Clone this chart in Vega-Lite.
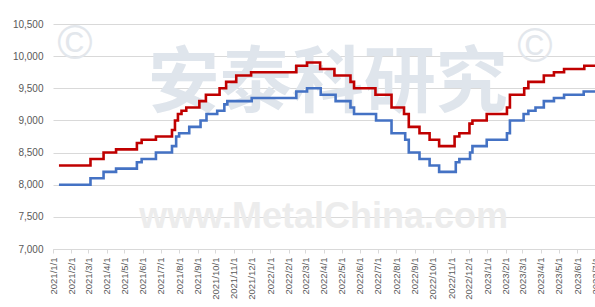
{
  "$schema": "https://vega.github.io/schema/vega-lite/v6.json",
  "width": 542,
  "height": 225,
  "autosize": {"type": "none"},
  "padding": {"left": 53, "top": 24, "right": 0, "bottom": 58},
  "background": "white",
  "config": {"view": {"stroke": null}, "font": "Liberation Sans"},
  "datasets": {
    "prices": [
      {"date": "2021-01-11", "series": "red", "value": 8300},
      {"date": "2021-03-05", "series": "red", "value": 8400},
      {"date": "2021-03-27", "series": "red", "value": 8500},
      {"date": "2021-04-17", "series": "red", "value": 8550},
      {"date": "2021-05-22", "series": "red", "value": 8650},
      {"date": "2021-05-30", "series": "red", "value": 8700},
      {"date": "2021-06-23", "series": "red", "value": 8750},
      {"date": "2021-07-20", "series": "red", "value": 8850},
      {"date": "2021-07-25", "series": "red", "value": 9000},
      {"date": "2021-07-30", "series": "red", "value": 9100},
      {"date": "2021-08-05", "series": "red", "value": 9150},
      {"date": "2021-08-13", "series": "red", "value": 9200},
      {"date": "2021-09-04", "series": "red", "value": 9300},
      {"date": "2021-09-15", "series": "red", "value": 9400},
      {"date": "2021-10-08", "series": "red", "value": 9500},
      {"date": "2021-10-19", "series": "red", "value": 9600},
      {"date": "2021-11-05", "series": "red", "value": 9700},
      {"date": "2021-11-30", "series": "red", "value": 9750},
      {"date": "2022-02-14", "series": "red", "value": 9850},
      {"date": "2022-03-04", "series": "red", "value": 9900},
      {"date": "2022-03-26", "series": "red", "value": 9800},
      {"date": "2022-04-19", "series": "red", "value": 9700},
      {"date": "2022-05-16", "series": "red", "value": 9600},
      {"date": "2022-05-22", "series": "red", "value": 9500},
      {"date": "2022-06-27", "series": "red", "value": 9400},
      {"date": "2022-07-24", "series": "red", "value": 9200},
      {"date": "2022-08-14", "series": "red", "value": 9100},
      {"date": "2022-08-22", "series": "red", "value": 8900},
      {"date": "2022-09-09", "series": "red", "value": 8800},
      {"date": "2022-09-26", "series": "red", "value": 8700},
      {"date": "2022-10-12", "series": "red", "value": 8600},
      {"date": "2022-11-07", "series": "red", "value": 8750},
      {"date": "2022-11-15", "series": "red", "value": 8800},
      {"date": "2022-12-02", "series": "red", "value": 8950},
      {"date": "2022-12-07", "series": "red", "value": 9000},
      {"date": "2022-12-31", "series": "red", "value": 9100},
      {"date": "2023-02-03", "series": "red", "value": 9200},
      {"date": "2023-02-08", "series": "red", "value": 9400},
      {"date": "2023-03-04", "series": "red", "value": 9500},
      {"date": "2023-03-11", "series": "red", "value": 9600},
      {"date": "2023-04-06", "series": "red", "value": 9700},
      {"date": "2023-04-23", "series": "red", "value": 9750},
      {"date": "2023-05-10", "series": "red", "value": 9800},
      {"date": "2023-06-13", "series": "red", "value": 9850},
      {"date": "2023-07-07", "series": "red", "value": 9850},
      {"date": "2021-01-11", "series": "blue", "value": 8000},
      {"date": "2021-03-05", "series": "blue", "value": 8100},
      {"date": "2021-03-27", "series": "blue", "value": 8200},
      {"date": "2021-04-17", "series": "blue", "value": 8250},
      {"date": "2021-05-22", "series": "blue", "value": 8350},
      {"date": "2021-05-30", "series": "blue", "value": 8400},
      {"date": "2021-06-23", "series": "blue", "value": 8500},
      {"date": "2021-07-20", "series": "blue", "value": 8600},
      {"date": "2021-07-27", "series": "blue", "value": 8750},
      {"date": "2021-08-01", "series": "blue", "value": 8800},
      {"date": "2021-08-18", "series": "blue", "value": 8900},
      {"date": "2021-09-06", "series": "blue", "value": 9000},
      {"date": "2021-09-16", "series": "blue", "value": 9100},
      {"date": "2021-10-04", "series": "blue", "value": 9150},
      {"date": "2021-10-16", "series": "blue", "value": 9250},
      {"date": "2021-10-21", "series": "blue", "value": 9300},
      {"date": "2021-12-01", "series": "blue", "value": 9350},
      {"date": "2022-02-14", "series": "blue", "value": 9450},
      {"date": "2022-03-04", "series": "blue", "value": 9500},
      {"date": "2022-03-27", "series": "blue", "value": 9400},
      {"date": "2022-04-21", "series": "blue", "value": 9300},
      {"date": "2022-05-16", "series": "blue", "value": 9200},
      {"date": "2022-05-22", "series": "blue", "value": 9100},
      {"date": "2022-06-28", "series": "blue", "value": 9000},
      {"date": "2022-07-24", "series": "blue", "value": 8800},
      {"date": "2022-08-16", "series": "blue", "value": 8700},
      {"date": "2022-08-22", "series": "blue", "value": 8500},
      {"date": "2022-09-09", "series": "blue", "value": 8400},
      {"date": "2022-09-26", "series": "blue", "value": 8300},
      {"date": "2022-10-12", "series": "blue", "value": 8200},
      {"date": "2022-11-09", "series": "blue", "value": 8350},
      {"date": "2022-11-15", "series": "blue", "value": 8400},
      {"date": "2022-12-03", "series": "blue", "value": 8500},
      {"date": "2022-12-07", "series": "blue", "value": 8600},
      {"date": "2022-12-31", "series": "blue", "value": 8700},
      {"date": "2023-02-03", "series": "blue", "value": 8800},
      {"date": "2023-02-08", "series": "blue", "value": 9000},
      {"date": "2023-03-03", "series": "blue", "value": 9100},
      {"date": "2023-03-11", "series": "blue", "value": 9150},
      {"date": "2023-03-23", "series": "blue", "value": 9200},
      {"date": "2023-04-06", "series": "blue", "value": 9300},
      {"date": "2023-04-23", "series": "blue", "value": 9350},
      {"date": "2023-05-10", "series": "blue", "value": 9400},
      {"date": "2023-06-12", "series": "blue", "value": 9450},
      {"date": "2023-07-07", "series": "blue", "value": 9450}
    ],
    "marks": [
      {"date": "2022-04-08", "value": 9560, "label": "安泰科研究", "kind": "cn"},
      {"date": "2022-04-01", "value": 7500, "label": "www.MetalChina.com", "kind": "en"},
      {"date": "2021-02-07", "value": 10180, "label": "©", "kind": "c"},
      {"date": "2023-03-22", "value": 10130, "label": "©", "kind": "c"}
    ]
  },
  "encoding": {
    "x": {
      "field": "date", "type": "temporal",
      "scale": {"type": "utc", "domain": [{"year": 2021, "month": 1, "date": 1, "utc": true}, {"year": 2023, "month": 7, "date": 1, "utc": true}]},
      "axis": {
        "title": null, "format": "%Y/%-m/%-d", "labelAngle": 270, "labelFontSize": 9.5, "labelColor": "#595959",
        "tickCount": {"interval": "month", "step": 1}, "labelOverlap": false, "labelFlush": false,
        "domainColor": "#d9d9d9", "tickColor": "#d9d9d9", "tickSize": 4, "labelPadding": 4, "grid": false
      }
    },
    "y": {
      "field": "value", "type": "quantitative",
      "scale": {"domain": [7000, 10500], "nice": false, "zero": false},
      "axis": {
        "title": null, "format": ",d", "values": [7000, 7500, 8000, 8500, 9000, 9500, 10000, 10500],
        "labelFontSize": 10, "labelColor": "#595959", "ticks": false, "domain": false, "labelOverlap": false, "labelFlush": false,
        "labelPadding": 10, "gridColor": "#d9d9d9", "gridWidth": 1
      }
    }
  },
  "layer": [
    {
      "data": {"name": "marks"},
      "transform": [{"filter": "datum.kind == 'cn'"}],
      "mark": {"type": "text", "font": "Noto Sans CJK SC", "fontWeight": "bold", "fontSize": 72, "color": "#dfe5ec", "align": "center", "baseline": "middle"},
      "encoding": {"text": {"field": "label"}}
    },
    {
      "data": {"name": "marks"},
      "transform": [{"filter": "datum.kind == 'en'"}],
      "mark": {"type": "text", "font": "Liberation Sans", "fontWeight": "bold", "fontSize": 36, "color": "#ececec", "align": "center", "baseline": "middle"},
      "encoding": {"text": {"field": "label"}}
    },
    {
      "data": {"name": "marks"},
      "transform": [{"filter": "datum.kind == 'c'"}],
      "mark": {"type": "text", "font": "Liberation Sans", "fontSize": 48, "color": "#e3e7ec", "align": "center", "baseline": "middle"},
      "encoding": {"text": {"field": "label"}}
    },
    {
      "data": {"name": "prices"},
      "mark": {"type": "line", "interpolate": "step-after", "strokeWidth": 2.6, "clip": true},
      "encoding": {
        "color": {
          "field": "series", "type": "nominal",
          "scale": {"domain": ["red", "blue"], "range": ["#c00000", "#4472c4"]},
          "legend": null
        }
      }
    }
  ]
}
